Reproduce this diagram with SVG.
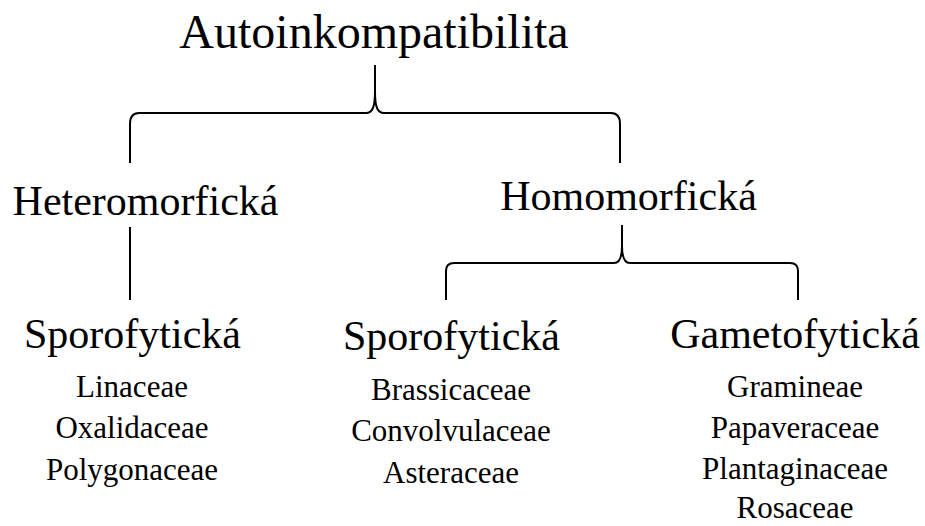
<svg xmlns="http://www.w3.org/2000/svg" width="925" height="526" viewBox="0 0 925 526">
<style>
text{font-family:"Liberation Serif","Times New Roman",serif;fill:#000;text-anchor:middle}
.t{font-size:48px}
.h{font-size:42px}
.s{font-size:31px}
.ln{fill:none;stroke:#000;stroke-width:2;stroke-linejoin:round}
</style>
<rect width="925" height="526" fill="#fff"/>
<g id="connectors">
<path class="ln" d="M130,163 L130,124 Q130,113 139,113 L366,113 C372,113 375,108 375,92 L375,65 M375,92 C375,108 378,113 384,113 L611,113 Q620,113 620,124 L620,163"/>
<path class="ln" d="M130,227 L130,300"/>
<path class="ln" d="M446,300 L446,271 Q446,263 454,263 L614,263 C619,263 622,259 622,246 L622,225 M622,246 C622,259 625,263 630,263 L790,263 Q798,263 798,271 L798,300"/>
</g>
<g id="root"><text class="t" x="374" y="48">Autoinkompatibilita</text></g>
<g id="heteromorficka"><text class="h" x="145.5" y="215">Heteromorfická</text></g>
<g id="homomorficka"><text class="h" x="628.5" y="210">Homomorfická</text></g>
<g id="sporo-hetero">
<text class="h" x="132.5" y="348">Sporofytická</text>
<text class="s" x="132" y="397">Linaceae</text>
<text class="s" x="132" y="438">Oxalidaceae</text>
<text class="s" x="132" y="480">Polygonaceae</text>
</g>
<g id="sporo-homo">
<text class="h" x="451.5" y="350">Sporofytická</text>
<text class="s" x="451" y="400">Brassicaceae</text>
<text class="s" x="451" y="441">Convolvulaceae</text>
<text class="s" x="451" y="483">Asteraceae</text>
</g>
<g id="gameto-homo">
<text class="h" x="795" y="348">Gametofytická</text>
<text class="s" x="795" y="397">Gramineae</text>
<text class="s" x="795" y="438">Papaveraceae</text>
<text class="s" x="795" y="479">Plantaginaceae</text>
<text class="s" x="795" y="518">Rosaceae</text>
</g>
</svg>
